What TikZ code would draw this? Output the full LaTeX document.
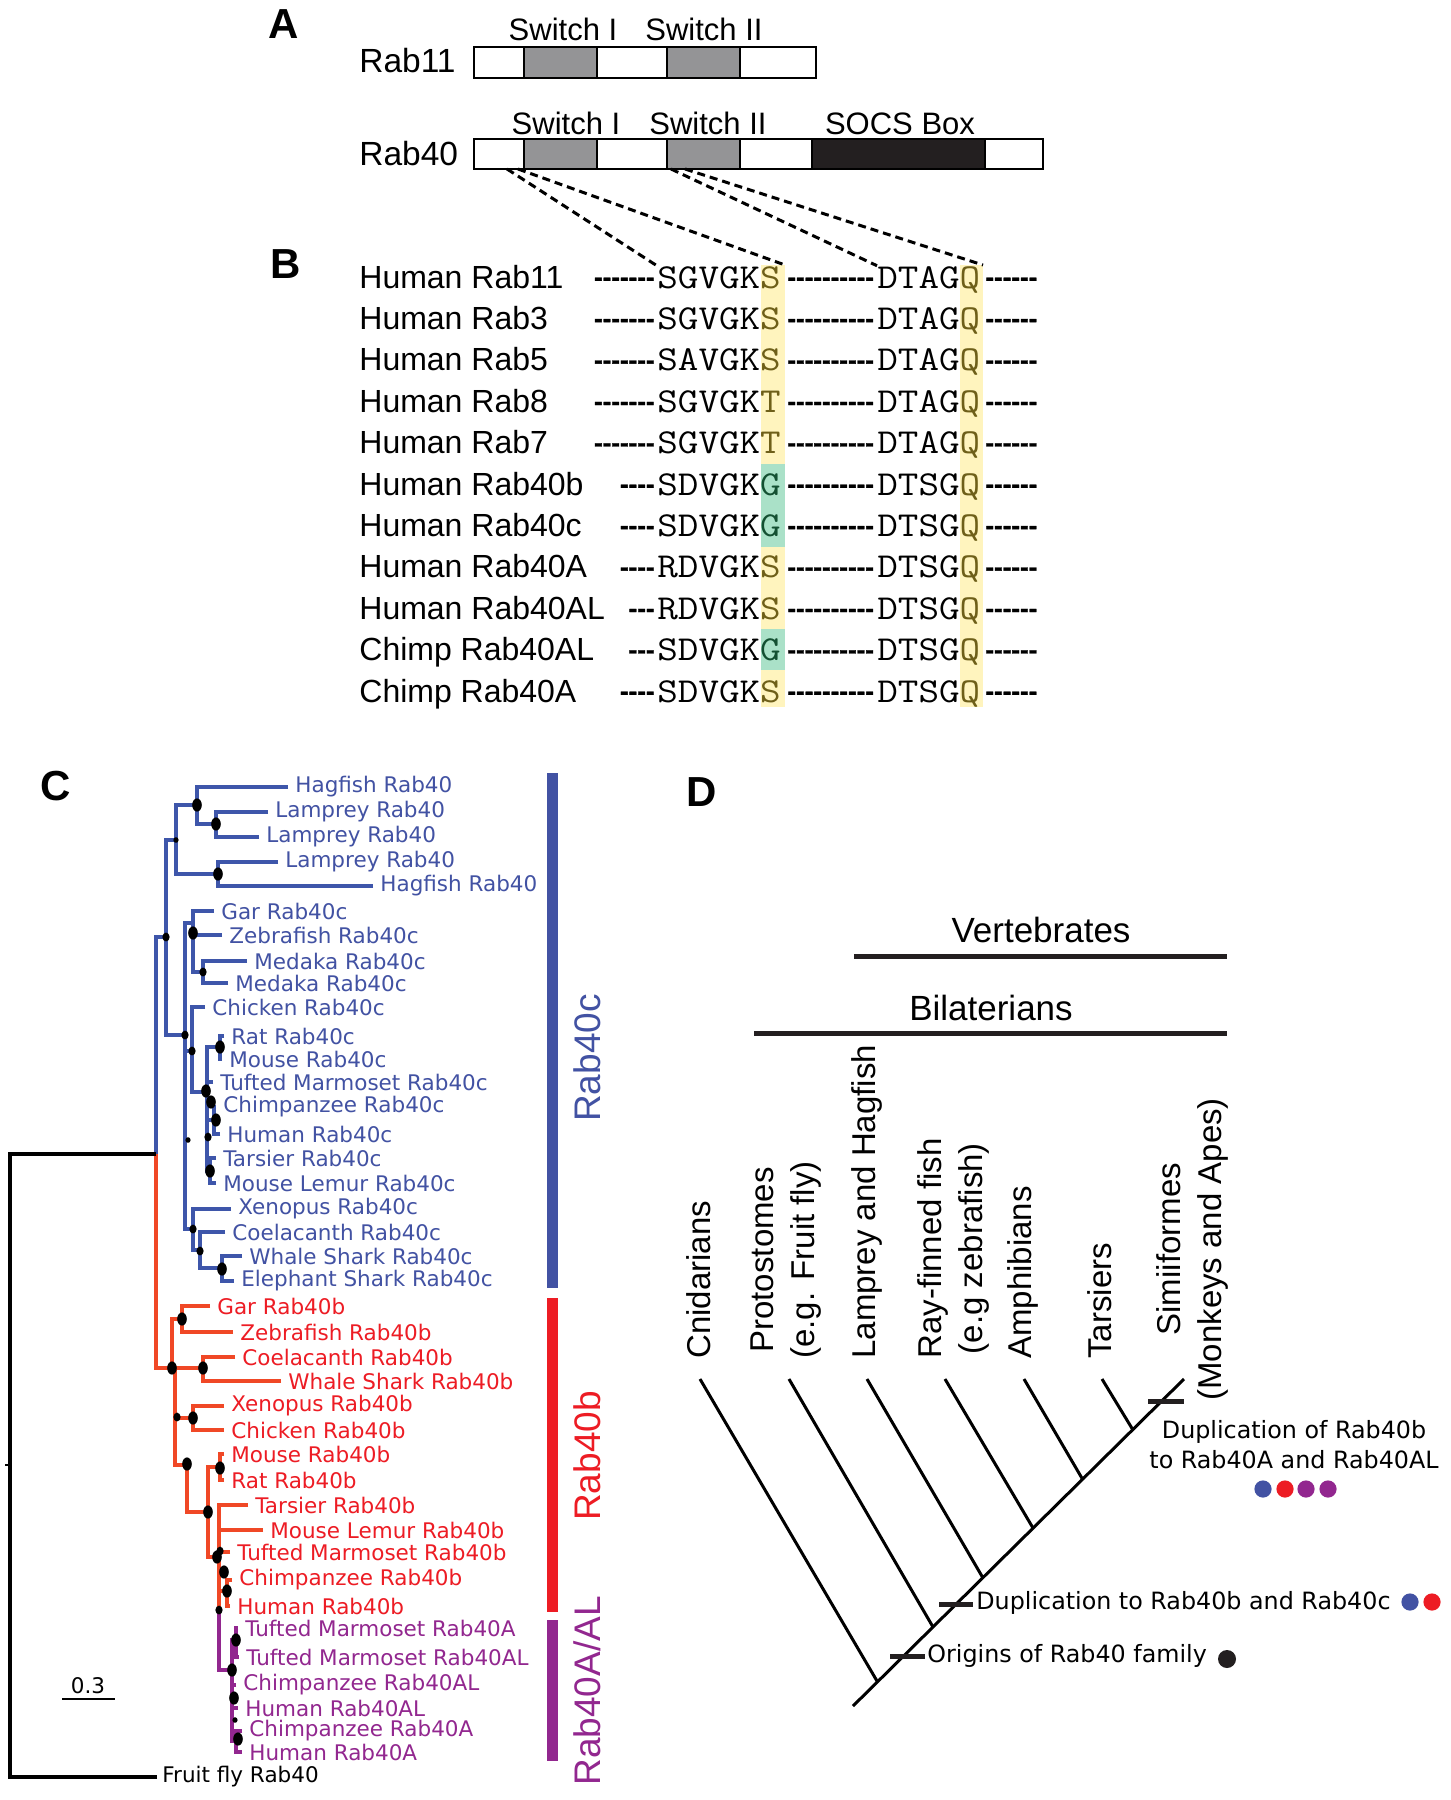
\documentclass[tikz,border=0pt]{standalone}
\usepackage{fontspec}
\setmainfont{Liberation Sans}
\newfontfamily\treefont{DejaVu Sans}
\newfontfamily\seqfont[FakeStretch=1.14]{Latin Modern Mono}
\newfontfamily\dashfont[Ligatures=TeXOff, BoldFeatures={FakeBold=1.2}]{Liberation Sans}
\usetikzlibrary{calc}

\definecolor{rabblue}{RGB}{66,82,163}
\definecolor{brblue}{RGB}{62,86,170}
\definecolor{rabred}{RGB}{237,28,36}
\definecolor{brred}{RGB}{240,72,38}
\definecolor{rabpurple}{RGB}{146,39,143}
\definecolor{hlyellow}{RGB}{255,244,190}
\definecolor{hlgreen}{RGB}{170,225,200}
\definecolor{txyellow}{RGB}{110,95,25}
\definecolor{txgreen}{RGB}{20,80,50}
\definecolor{segray}{RGB}{148,148,150}
\definecolor{segblack}{RGB}{35,31,32}

\newcommand{\hy}[1]{\textcolor{txyellow}{#1}}
\newcommand{\hg}[1]{\textcolor{txgreen}{#1}}

\tikzset{
  paneltag/.style={font=\fontsize{21}{25}\selectfont\bfseries, anchor=base west, inner sep=0pt},
  protname/.style={font=\fontsize{16.75}{20}\selectfont, anchor=base west, inner sep=0pt},
  swlbl/.style={font=\fontsize{15.5}{18}\selectfont, anchor=base, inner sep=0pt},
  seg/.style={draw=black, line width=0.7pt},
  boxline/.style={draw=black, line width=1.3pt},
  zoomline/.style={dash pattern=on 4pt off 2.5pt, line width=1.5pt},
  seqname/.style={font=\fontsize{16}{19}\selectfont, anchor=base west, inner sep=0pt},
  seqtxt/.style={font=\seqfont\fontsize{17.5}{20}\selectfont, anchor=base west, inner sep=0pt},
  dashtxt/.style={font=\dashfont\fontsize{13}{15}\selectfont\bfseries, anchor=base west, inner sep=0pt, yshift=1pt},
  bluelbl/.style={font=\treefont\fontsize{10.75}{12}\selectfont, text=rabblue, anchor=west, inner sep=0pt},
  redlbl/.style={font=\treefont\fontsize{10.75}{12}\selectfont, text=rabred, anchor=west, inner sep=0pt},
  purlbl/.style={font=\treefont\fontsize{10.75}{12}\selectfont, text=rabpurple, anchor=west, inner sep=0pt},
  bluebr/.style={draw=brblue, line width=1.6pt},
  redbr/.style={draw=brred, line width=1.6pt},
  purbr/.style={draw=rabpurple, line width=1.6pt},
  rootbr/.style={draw=black, line width=1.6pt},
  grouplbl/.style={font=\fontsize{18.5}{22}\selectfont, rotate=90, inner sep=0pt},
  taxon/.style={rotate=90, anchor=west, align=center, inner sep=0pt, font=\fontsize{16.5}{20.5}\selectfont},
  spbr/.style={draw=black, line width=1.5pt},
  evtbar/.style={draw=segblack, line width=2.5pt},
  evtlbl/.style={font=\treefont\fontsize{11.9}{15}\selectfont, inner sep=0pt},
  cladebar/.style={draw=segblack, line width=2.5pt},
  cladelbl/.style={font=\fontsize{17.5}{20}\selectfont, anchor=base, inner sep=0pt}
}

\begin{document}
\begin{tikzpicture}[x=0.5pt, y=-0.5pt]
\useasboundingbox[fill=white] (0,0) rectangle (1451,1800);

%%%%% A: domain boxes %%%%%
\node[paneltag] (tagA) at (268,38) {A};
\node[protname] (rab11) at (359,72) {Rab11};
\node[protname] (rab40) at (359,165) {Rab40};

\foreach \a/\b/\c in {474/524/white,524/597/segray,597/667/white,667/740/segray,740/816/white}
  \draw[seg, fill=\c] (\a,47) rectangle (\b,78);
\draw[boxline] (474,47) rectangle (816,78);
\node[swlbl] (sw11a) at (563,40) {Switch I};
\node[swlbl] (sw11b) at (704,40) {Switch II};

\foreach \a/\b/\c in {474/524/white,524/597/segray,597/667/white,667/740/segray,740/812/white,812/985/segblack,985/1043/white}
  \draw[seg, fill=\c] (\a,139) rectangle (\b,169);
\draw[boxline] (474,139) rectangle (1043,169);
\node[swlbl] (sw40a) at (566,134) {Switch I};
\node[swlbl] (sw40b) at (708,134) {Switch II};
\node[swlbl] (socs) at (900,134) {SOCS Box};

%%%%% B: alignment %%%%%
\node[paneltag] (tagB) at (270,278) {B};

\fill[hlyellow] (761,265) rectangle (785,707);
\fill[hlyellow] (960,265) rectangle (983,707);
\fill[hlgreen] (761,464) rectangle (785,547);
\fill[hlgreen] (761,629) rectangle (785,670);

\foreach \i/\nm/\ld/\ma/\mb in {0/Human Rab11/-------/SGVGK\hy{S}/DTAG,1/Human Rab3/-------/SGVGK\hy{S}/DTAG,2/Human Rab5/-------/SAVGK\hy{S}/DTAG,3/Human Rab8/-------/SGVGK\hy{T}/DTAG,4/Human Rab7/-------/SGVGK\hy{T}/DTAG,5/Human Rab40b/----/SDVGK\hg{G}/DTSG,6/Human Rab40c/----/SDVGK\hg{G}/DTSG,7/Human Rab40A/----/RDVGK\hy{S}/DTSG,8/Human Rab40AL/---/RDVGK\hy{S}/DTSG,9/Chimp Rab40AL/---/SDVGK\hg{G}/DTSG,10/Chimp Rab40A/----/SDVGK\hy{S}/DTSG}{
  \pgfmathsetmacro{\bl}{288+41.4*\i}
  \node[seqname] (nm\i) at (359,\bl) {\nm};
  \node[dashtxt, anchor=base east] (ld\i) at (655,\bl) {\ld};
  \node[seqtxt] (ma\i) at (657,\bl) {\ma};
  \node[dashtxt] (md\i) at (787,\bl) {----------};
  \node[seqtxt] (mb\i) at (877,\bl) {\mb\hy{Q}};
  \node[dashtxt] (tr\i) at (985,\bl) {------};
}

% zoom lines from Rab40 to the alignment
\coordinate (z1a) at (507,169);
\coordinate (z1b) at (518,169);
\coordinate (z2a) at (671,169);
\coordinate (z2b) at (685,169);
\coordinate (colS) at (785,265);
\coordinate (colQ) at (983,265);
\draw[zoomline] (z1a) -- (ma0.north west);
\draw[zoomline] (z1b) -- (colS);
\draw[zoomline] (z2a) -- (mb0.north west);
\draw[zoomline] (z2b) -- (colQ);

%%%%% C: tree %%%%%
\node[paneltag] (tagC) at (40,800) {C};

\coordinate (root) at (10,1465);
\coordinate (ing) at (156,1154);
% blue clade
\coordinate (blueN) at (166,937);
\coordinate (agn) at (176,840);
\coordinate (agA) at (197,805);
\coordinate (agB) at (218,874);
\coordinate (lm1) at (216,824);
\coordinate (gna) at (185,1035);
\coordinate (fsh) at (193,923);
\coordinate (mdk) at (203,972);
\coordinate (amn) at (192,1051);
\coordinate (mam) at (207,1092);
\coordinate (rod) at (220,1047);
\coordinate (chh) at (214,1120);
\coordinate (tml) at (210,1171);
\coordinate (xen) at (193,1229);
\coordinate (coe) at (200,1250);
\coordinate (shk) at (222,1268);
% red clade
\coordinate (redN) at (172,1368);
\coordinate (gz) at (182,1319);
\coordinate (cw) at (203,1368);
\coordinate (rj) at (175,1368);
\coordinate (tet) at (193,1418);
\coordinate (rB) at (187,1465);
\coordinate (rC) at (208,1512);
\coordinate (rod2) at (220,1467);
\coordinate (prim) at (219,1557);
\coordinate (ch2) at (227,1591);
\coordinate (pjn) at (219,1610);
% purple clade
\coordinate (pur) at (232,1670);
\coordinate (tmn) at (236,1640);
\coordinate (hA) at (236,1741);

\foreach \a/\b in {blueN/ing,agn/blueN,agA/agn,agB/agn,lm1/agA,gna/blueN,fsh/gna,mdk/fsh,amn/gna,mam/amn,rod/mam,chh/mam,tml/mam,xen/gna,coe/xen,shk/coe}
  \draw[bluebr] (\a) -| (\b);
\foreach \a/\b in {redN/ing,gz/redN,cw/redN,tet/rj,rB/rj,rC/rB,rod2/rC,prim/rC,ch2/prim}
  \draw[redbr] (\a) -| (\b);
\draw[redbr] (prim) -- (pjn);
\draw[purbr] (pjn) |- (pur);
\foreach \a/\b in {tmn/pur,hA/pur}
  \draw[purbr] (\a) -| (\b);

\foreach \n/\lx/\ly/\anc/\txt in {cb1/295/787/agA/Hagfish Rab40,cb2/275/812/lm1/Lamprey Rab40,cb3/266/837/lm1/Lamprey Rab40,cb4/285/862/agB/Lamprey Rab40,cb5/380/886/agB/Hagfish Rab40,cb6/221/911/fsh/Gar Rab40c,cb7/229/935/fsh/Zebrafish Rab40c,cb8/254/961/mdk/Medaka Rab40c,cb9/235/983/mdk/Medaka Rab40c,cb10/212/1007/amn/Chicken Rab40c,cb11/231/1036/rod/Rat Rab40c,cb12/229/1059/rod/Mouse Rab40c,cb13/220/1082/mam/Tufted Marmoset Rab40c,cb14/223/1107/chh/Chimpanzee Rab40c,cb15/227/1134/chh/Human Rab40c,cb16/223/1158/tml/Tarsier Rab40c,cb17/223/1183/tml/Mouse Lemur Rab40c,cb18/238/1209/xen/Xenopus Rab40c,cb19/232/1232/coe/Coelacanth Rab40c,cb20/249/1256/shk/Whale Shark Rab40c,cb21/241/1281/shk/Elephant Shark Rab40c}{
  \node[bluelbl] (\n) at (\lx,\ly) {\txt};
  \draw[bluebr] ([xshift=-3.5pt]\n.west) -| (\anc);
}
\foreach \n/\lx/\ly/\anc/\txt in {cr1/217/1306/gz/Gar Rab40b,cr2/240/1332/gz/Zebrafish Rab40b,cr3/242/1357/cw/Coelacanth Rab40b,cr4/288/1381/cw/Whale Shark Rab40b,cr5/231/1406/tet/Xenopus Rab40b,cr6/231/1430/tet/Chicken Rab40b,cr7/231/1454/rod2/Mouse Rab40b,cr8/231/1480/rod2/Rat Rab40b,cr9/255/1505/prim/Tarsier Rab40b,cr10/270/1530/prim/Mouse Lemur Rab40b,cr11/237/1552/prim/Tufted Marmoset Rab40b,cr12/239/1580/ch2/Chimpanzee Rab40b,cr13/237/1606/ch2/Human Rab40b}{
  \node[redlbl] (\n) at (\lx,\ly) {\txt};
  \draw[redbr] ([xshift=-3.5pt]\n.west) -| (\anc);
}
\foreach \n/\lx/\ly/\anc/\txt in {cp1/245/1628/tmn/Tufted Marmoset Rab40A,cp2/246/1657/tmn/Tufted Marmoset Rab40AL,cp3/243/1685/pur/Chimpanzee Rab40AL,cp4/245/1708/pur/Human Rab40AL,cp5/249/1731/hA/Chimpanzee Rab40A,cp6/249/1752/hA/Human Rab40A}{
  \node[purlbl] (\n) at (\lx,\ly) {\txt};
  \draw[purbr] ([xshift=-3.5pt]\n.west) -| (\anc);
}

% root and outgroup
\node[font=\treefont\fontsize{10.75}{12}\selectfont, anchor=west, inner sep=0pt] (ffly) at (162,1777) {Fruit fly Rab40};
\draw[rootbr] (ing) -| (root);
\draw[rootbr] ([xshift=-2.5pt]ffly.west) -| (root);
\draw[line width=0.8pt] (root) -- ++(-5,0);

% support dots
\foreach \x/\y in {197/805,216/824,218/874,193/933,220/1047,206/1091,211/1102,216/1120,210/1171,222/1269,182/1319,172/1368,203/1368,193/1418,187/1464,220/1468,208/1512,217/1557,224/1572,227/1591,236/1640,232/1670,234/1698,238/1739}
  \fill (\x,\y) ellipse [x radius=2.4pt, y radius=3.3pt];
\foreach \x/\y in {166/937,203/972,185/1035,192/1051,208/1137,193/1229,200/1251,177/1417,220/1551,219/1610}
  \fill (\x,\y) ellipse [x radius=1.8pt, y radius=2.2pt];
\foreach \x/\y in {176/840,188/1140,235/1720}
  \fill (\x,\y) ellipse [x radius=1.3pt, y radius=1.4pt];

% scale bar
\coordinate (sbl) at (62,1699);
\coordinate (sbr) at (115,1699);
\draw[line width=1.2pt] (sbl) -- (sbr);
\node[font=\treefont\fontsize{10.75}{12}\selectfont, anchor=base, inner sep=0pt] (sbtxt) at (88,1693) {0.3};

% group bars
\fill[rabblue] (547,773) rectangle (558,1288);
\fill[rabred] (547,1298) rectangle (558,1612);
\fill[rabpurple] (547,1620) rectangle (558,1761);
\node[grouplbl, text=rabblue] (g40c) at (587,1058) {Rab40c};
\node[grouplbl, text=rabred] (g40b) at (587,1456) {Rab40b};
\node[grouplbl, text=rabpurple] (g40a) at (587,1691) {Rab40A/AL};

%%%%% D: species tree %%%%%
\node[paneltag] (tagD) at (686,806) {D};

\node[cladelbl] (vert) at (1041,942) {Vertebrates};
\draw[cladebar] (854,956) -- (1227,956);
\node[cladelbl] (bila) at (991,1020) {Bilaterians};
\draw[cladebar] (754,1033) -- (1227,1033);

\node[taxon] (cni) at (699,1359) {Cnidarians};
\node[taxon] (pro) at (786,1359) {Protostomes\\(e.g. Fruit fly)};
\node[taxon] (lam) at (867,1359) {Lamprey and Hagfish};
\node[taxon] (ray) at (953,1359) {Ray-finned fish\\(e.g zebrafish)};
\node[taxon] (amp) at (1023,1359) {Amphibians};
\node[taxon] (tar) at (1100,1359) {Tarsiers};
\node[taxon] (sim) at (1192,1401) {Simiiformes\\(Monkeys and Apes)};

\coordinate (dbase) at (853,1706);
\coordinate (dtop) at (1184,1379);
\draw[spbr] (dbase) -- (dtop);
\foreach \t/\tx/\jx/\jy in {Cni/700/877/1681,Pro/789/933/1627,Lam/867/983/1578,Ray/945/1033/1528,Amp/1024/1083/1480,Tar/1102/1133/1430}{
  \coordinate (t\t) at (\tx,1379);
  \coordinate (j\t) at (\jx,\jy);
  \draw[spbr] (t\t) -- (j\t);
}

\draw[evtbar] (890,1656) -- (925,1656);
\draw[evtbar] (939,1604) -- (973,1604);
\draw[evtbar] (1148,1401) -- (1184,1401);

\node[evtlbl, anchor=west] (orig) at (927,1656) {Origins of Rab40 family};
\node[evtlbl, anchor=west] (dupbc) at (976,1603) {Duplication to Rab40b and Rab40c};
\node[evtlbl, align=center] (dupa) at (1294,1445) {Duplication of Rab40b\\to Rab40A and Rab40AL};

\fill[segblack] (1227,1659) circle (4.5pt);
\fill[rabblue] (1410,1602) circle (4.3pt);
\fill[rabred] (1432,1602) circle (4.3pt);
\foreach \x/\c in {1263/rabblue,1285/rabred,1306/rabpurple,1328/rabpurple}
  \fill[\c] (\x,1489) circle (4.3pt);

\end{tikzpicture}
\end{document}
